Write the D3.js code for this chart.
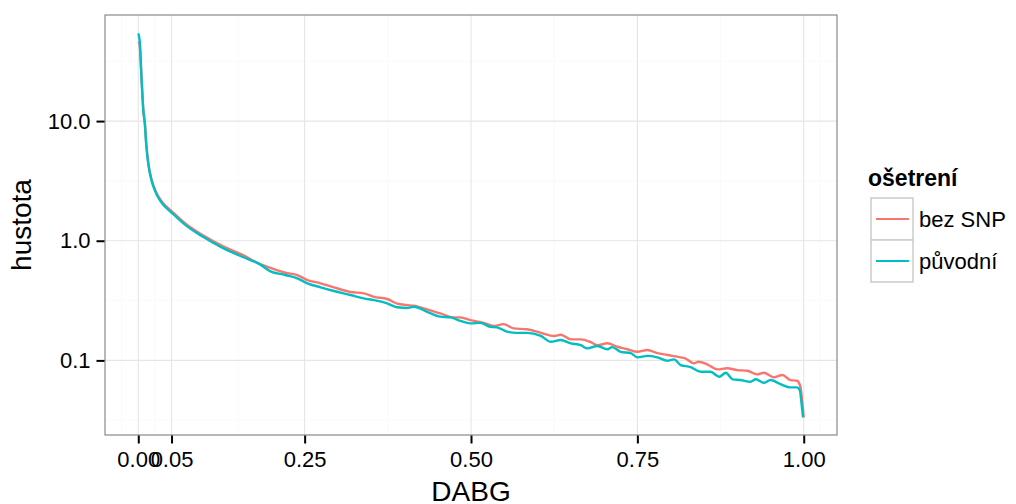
<!DOCTYPE html>
<html>
<head>
<meta charset="utf-8">
<script src="https://cdn.jsdelivr.net/npm/d3@7"></script>
<style>
  body { margin: 0; background: #fff; }
  svg { display: block; font-family: "Liberation Sans", Arial, sans-serif; }
</style>
</head>
<body>
<svg></svg>
<script>
// series "bez SNP"
const dabgBez = [0.000, 0.002, 0.005, 0.0075, 0.010, 0.012, 0.015, 0.020, 0.026, 0.031, 0.036, 0.050, 0.071, 0.096, 0.126, 0.156, 0.183, 0.198, 0.221, 0.239, 0.254, 0.274, 0.294, 0.319, 0.339, 0.354, 0.374, 0.389, 0.404, 0.414, 0.434, 0.454, 0.474, 0.484, 0.499, 0.519, 0.534, 0.549, 0.564, 0.584, 0.605, 0.625, 0.635, 0.650, 0.665, 0.680, 0.690, 0.705, 0.720, 0.735, 0.750, 0.765, 0.780, 0.795, 0.815, 0.822, 0.835, 0.842, 0.855, 0.870, 0.885, 0.900, 0.915, 0.930, 0.940, 0.955, 0.968, 0.980, 0.990, 0.995, 0.9985, 1.000];
const hustotaBez = [46.0, 44.0, 22.5, 12.7, 9.5, 6.5, 4.5, 3.25, 2.6, 2.3, 2.1, 1.77, 1.39, 1.12, 0.905, 0.765, 0.639, 0.595, 0.540, 0.517, 0.469, 0.441, 0.408, 0.373, 0.363, 0.340, 0.326, 0.298, 0.290, 0.286, 0.267, 0.247, 0.229, 0.229, 0.217, 0.206, 0.194, 0.201, 0.185, 0.182, 0.170, 0.160, 0.164, 0.150, 0.150, 0.142, 0.134, 0.139, 0.130, 0.124, 0.118, 0.122, 0.115, 0.111, 0.106, 0.104, 0.0945, 0.0975, 0.0927, 0.0842, 0.0859, 0.0830, 0.0820, 0.0764, 0.0788, 0.0722, 0.0755, 0.0685, 0.0676, 0.0602, 0.0410, 0.0334];

// series "původní"
const dabgPuv = [0.000, 0.002, 0.005, 0.0075, 0.010, 0.012, 0.015, 0.020, 0.026, 0.031, 0.036, 0.050, 0.071, 0.096, 0.126, 0.156, 0.183, 0.198, 0.221, 0.239, 0.254, 0.274, 0.294, 0.319, 0.339, 0.354, 0.374, 0.389, 0.404, 0.414, 0.434, 0.454, 0.469, 0.484, 0.499, 0.514, 0.529, 0.539, 0.554, 0.569, 0.584, 0.605, 0.620, 0.635, 0.650, 0.665, 0.675, 0.690, 0.705, 0.712, 0.725, 0.740, 0.750, 0.765, 0.780, 0.795, 0.805, 0.815, 0.830, 0.845, 0.860, 0.873, 0.883, 0.893, 0.905, 0.920, 0.928, 0.940, 0.950, 0.965, 0.980, 0.990, 0.994, 0.997, 0.999];
const hustotaPuv = [54.1, 47.6, 22.0, 12.4, 9.27, 6.31, 4.4, 3.18, 2.55, 2.25, 2.05, 1.72, 1.35, 1.09, 0.875, 0.735, 0.635, 0.558, 0.517, 0.485, 0.441, 0.408, 0.380, 0.352, 0.330, 0.319, 0.300, 0.278, 0.274, 0.281, 0.255, 0.232, 0.229, 0.214, 0.204, 0.206, 0.191, 0.189, 0.174, 0.170, 0.170, 0.160, 0.143, 0.148, 0.139, 0.134, 0.126, 0.132, 0.124, 0.129, 0.118, 0.115, 0.106, 0.109, 0.106, 0.0993, 0.102, 0.0915, 0.0880, 0.0804, 0.0804, 0.0730, 0.0788, 0.0695, 0.0685, 0.0663, 0.0695, 0.0650, 0.0685, 0.0634, 0.0595, 0.0595, 0.0565, 0.0420, 0.0334];

const seriesNames = ['bez SNP', 'původní'];
const seriesColors = ['#F8766D', '#00BFC4'];

const xBreaks = [0, 0.05, 0.25, 0.5, 0.75, 1.0];
const xLabels = ['0.00', '0.05', '0.25', '0.50', '0.75', '1.00'];
const xMinor = [-0.025, 0.025, 0.15, 0.375, 0.625, 0.875, 1.025];
const yBreaks = [0.1, 1, 10];
const yLabels = ['0.1', '1.0', '10.0'];
const yMinor = [Math.pow(10, -1.5), Math.pow(10, -0.5), Math.pow(10, 0.5), Math.pow(10, 1.5)];

const width = 1016;
const height = 504;
const panel = { left: 105, right: 837, top: 15, bottom: 435 };

const svg = d3.select('svg').attr('width', width).attr('height', height);

const x = d3.scaleLinear().domain([-0.05, 1.05]).range([panel.left, panel.right]);
const y = d3.scaleLog().domain([0.0238, 77]).range([panel.bottom, panel.top]);

svg.append('defs').append('clipPath').attr('id', 'clip')
  .append('rect')
  .attr('x', panel.left).attr('y', panel.top)
  .attr('width', panel.right - panel.left).attr('height', panel.bottom - panel.top);

// panel background
svg.append('rect')
  .attr('x', panel.left).attr('y', panel.top)
  .attr('width', panel.right - panel.left).attr('height', panel.bottom - panel.top)
  .attr('fill', '#fff');

const grid = svg.append('g').attr('clip-path', 'url(#clip)');

grid.selectAll('.xminor').data(xMinor).enter().append('line')
  .attr('x1', (d) => x(d)).attr('x2', (d) => x(d))
  .attr('y1', panel.top).attr('y2', panel.bottom)
  .attr('stroke', '#FAFAFA').attr('stroke-width', 1.1);
grid.selectAll('.yminor').data(yMinor).enter().append('line')
  .attr('y1', (d) => y(d)).attr('y2', (d) => y(d))
  .attr('x1', panel.left).attr('x2', panel.right)
  .attr('stroke', '#FAFAFA').attr('stroke-width', 1.1);
grid.selectAll('.xmajor').data(xBreaks).enter().append('line')
  .attr('x1', (d) => x(d)).attr('x2', (d) => x(d))
  .attr('y1', panel.top).attr('y2', panel.bottom)
  .attr('stroke', '#E5E5E5').attr('stroke-width', 1.1);
grid.selectAll('.ymajor').data(yBreaks).enter().append('line')
  .attr('y1', (d) => y(d)).attr('y2', (d) => y(d))
  .attr('x1', panel.left).attr('x2', panel.right)
  .attr('stroke', '#E5E5E5').attr('stroke-width', 1.1);

// density lines
const line = d3.line()
  .curve(d3.curveMonotoneX)
  .x((d) => x(d[0]))
  .y((d) => y(d[1]));

const series = [
  d3.zip(dabgBez, hustotaBez),
  d3.zip(dabgPuv, hustotaPuv)
];

grid.selectAll('.curve').data(series).enter().append('path')
  .attr('d', line)
  .attr('fill', 'none')
  .attr('stroke', (_, i) => seriesColors[i])
  .attr('stroke-width', 2.4)
  .attr('stroke-linejoin', 'round');

// panel border
svg.append('rect')
  .attr('x', panel.left).attr('y', panel.top)
  .attr('width', panel.right - panel.left).attr('height', panel.bottom - panel.top)
  .attr('fill', 'none').attr('stroke', '#7F7F7F').attr('stroke-width', 1.1);

// axes
const xAxis = d3.axisBottom(x)
  .tickValues(xBreaks)
  .tickFormat((_, i) => xLabels[i])
  .tickSize(8)
  .tickPadding(8);
const gx = svg.append('g').attr('transform', 'translate(0,' + (panel.bottom + 0.5) + ')').call(xAxis);
gx.select('.domain').remove();
gx.selectAll('line').attr('stroke', '#000').attr('stroke-width', 2);
gx.selectAll('text').attr('fill', '#000').style('font-size', '22px');

const yAxis = d3.axisLeft(y)
  .tickValues(yBreaks)
  .tickFormat((_, i) => yLabels[i])
  .tickSize(8)
  .tickPadding(6);
const gy = svg.append('g').attr('transform', 'translate(' + (panel.left - 0.5) + ',0)').call(yAxis);
gy.select('.domain').remove();
gy.selectAll('line').attr('stroke', '#000').attr('stroke-width', 2);
gy.selectAll('text').attr('fill', '#000').style('font-size', '22px');

// axis titles
svg.append('text')
  .attr('x', (panel.left + panel.right) / 2)
  .attr('y', 501)
  .attr('text-anchor', 'middle')
  .style('font-size', '28px')
  .text('DABG');

svg.append('text')
  .attr('transform', 'translate(31,' + (panel.top + panel.bottom) / 2 + ') rotate(-90)')
  .attr('text-anchor', 'middle')
  .style('font-size', '28px')
  .text('hustota');

// legend
const legend = svg.append('g').attr('transform', 'translate(871,198)');
legend.append('text')
  .attr('x', -3).attr('y', -12)
  .style('font-size', '23px')
  .style('font-weight', 'bold')
  .text('ošetrení');

const keys = legend.selectAll('.key').data(seriesNames).enter().append('g')
  .attr('transform', (_, i) => 'translate(0,' + i * 42 + ')');
keys.append('rect')
  .attr('width', 42).attr('height', 42)
  .attr('fill', '#fff').attr('stroke', '#CCCCCC').attr('stroke-width', 1.5);
keys.append('line')
  .attr('x1', 5).attr('x2', 38)
  .attr('y1', 21).attr('y2', 21)
  .attr('stroke', (_, i) => seriesColors[i])
  .attr('stroke-width', 2.1);
keys.append('text')
  .attr('x', 48).attr('y', 21)
  .attr('dy', '0.36em')
  .style('font-size', '22px')
  .text((d) => d);
</script>
</body>
</html>
